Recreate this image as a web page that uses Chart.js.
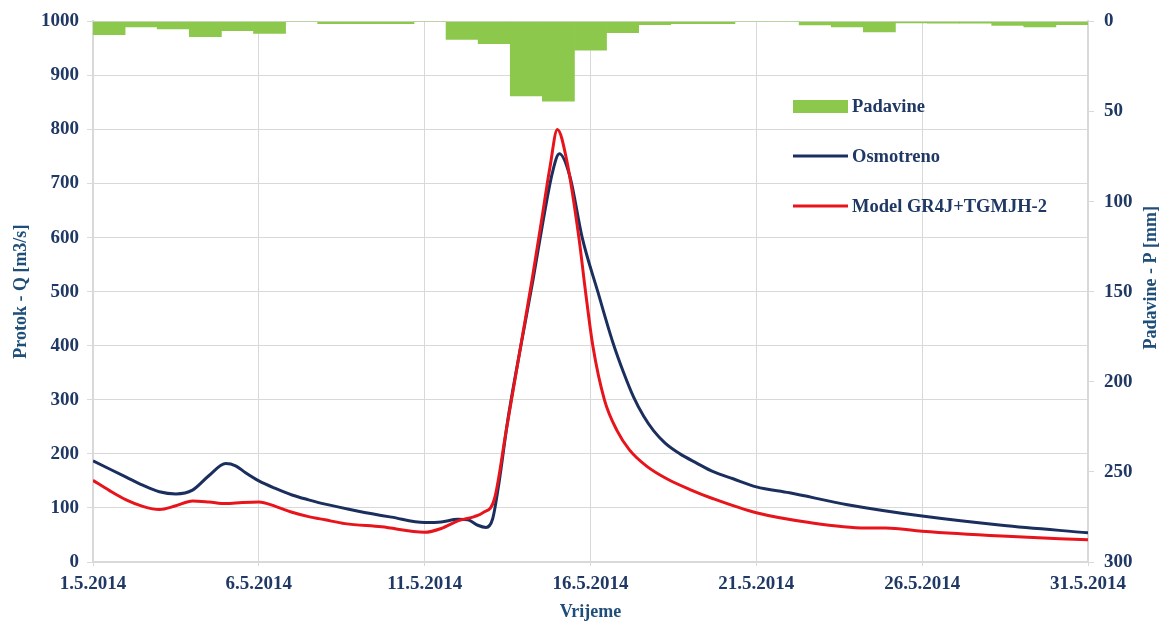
<!DOCTYPE html>
<html>
<head>
<meta charset="utf-8">
<script src="https://cdn.jsdelivr.net/npm/chart.js@4.4.1/dist/chart.umd.min.js"></script>
<style>
  html, body { margin: 0; padding: 0; background: #fff; }
  #wrap { width: 1161px; height: 623px; position: relative; }
</style>
</head>
<body>
<div id="wrap"><canvas id="flowChart"></canvas></div>
<script>
// daily rainfall, 1.5. - 31.5.2014 [mm]
const rainDays = ['1.5', '2.5', '3.5', '4.5', '5.5', '6.5', '7.5', '8.5', '9.5', '10.5',
  '11.5', '12.5', '13.5', '14.5', '15.5', '16.5', '17.5', '18.5', '19.5', '20.5',
  '21.5', '22.5', '23.5', '24.5', '25.5', '26.5', '27.5', '28.5', '29.5', '30.5', '31.5'];
const rainMm = [7.3, 3.1, 4.2, 8.5, 5.1, 6.7, 0, 1.3, 1.3, 1.3,
  0, 10, 12.3, 41.4, 44.2, 16, 6.3, 1.8, 1.3, 1.3,
  0, 0, 2.0, 3.0, 5.8, 0.9, 1.0, 1.0, 2.2, 3.0, 1.8];

// observed discharge (day of May, m3/s)
const obsDays = [1, 1.5, 2, 2.5, 3, 3.5, 4, 4.5, 5, 5.3, 5.6, 6, 6.5, 7, 7.5, 8, 9, 10, 11, 11.5, 12,
  12.3, 12.6, 12.85, 13.05, 13.25, 13.5, 13.9, 14.27, 14.58, 14.85, 15.06, 15.38, 15.75, 16.22, 16.67,
  17.0, 17.3, 17.6, 17.9, 18.25, 18.7, 19.2, 19.7, 20.3, 21, 22, 23.75, 26, 28.4, 31];
const obsQ = [187, 172, 157, 142, 130, 126, 133, 160, 182, 178, 165, 150, 136, 124, 115, 107, 94, 83, 73, 74, 79,
  78, 68, 64, 80, 150, 260, 400, 523, 634, 720, 755, 713, 600, 500, 407,
  350, 305, 270, 243, 220, 200, 183, 167, 154, 139, 128, 106, 85, 68, 54];

// model GR4J+TGMJH-2
const modDays = [1, 1.5, 2, 2.5, 3, 3.5, 4, 4.5, 5, 5.5, 6, 6.5, 7, 7.5, 8, 8.6, 9.7, 11, 11.5, 12,
  12.5, 12.75, 13.1, 13.45, 13.9, 14.24, 14.53, 14.78, 15, 15.28, 15.65, 15.85, 16.07, 16.42, 16.8,
  17.18, 17.7, 18.33, 19, 19.7, 21, 22.6, 24.3, 24.9, 26, 28.4, 31];
const modQ = [151, 132, 115, 103, 97, 104, 113, 111, 108, 110, 111, 103, 92, 84, 78, 71, 65, 55, 62, 76,
  84, 91, 116, 240, 401, 523, 634, 731, 800, 744, 600, 500, 400, 300, 243,
  207, 177, 153, 134, 117, 91, 73, 63, 63, 57, 48, 41];

const tickDays = [1, 6, 11, 16, 21, 26, 31];
const rainAxisTitle = 'Padavine - P [mm]';

const textColor = '#1F3864';
const titleColor = '#1F4E79';
const gridColor = '#d9d9d9';

Chart.defaults.font.family = '"Liberation Serif", "Times New Roman", serif';
Chart.defaults.font.weight = 'bold';
Chart.defaults.font.size = 19;
Chart.defaults.color = textColor;

const toPoints = (xs, ys) => xs.map((x, i) => ({ x: x, y: ys[i] }));

// legend inside the plot + right axis title reading upwards
const sideLegend = {
  id: 'sideLegend',
  afterDraw(chart) {
    const ctx = chart.ctx;
    ctx.save();
    ctx.font = 'bold 18.5px "Liberation Serif", serif';
    ctx.textBaseline = 'middle';
    chart.data.datasets.forEach((ds, i) => {
      const y = 106 + i * 50;
      if (ds.type === 'bar') {
        ctx.fillStyle = ds.backgroundColor;
        ctx.fillRect(793, y - 6, 55, 13);
      } else {
        ctx.strokeStyle = ds.borderColor;
        ctx.lineWidth = 3;
        ctx.beginPath();
        ctx.moveTo(793, y);
        ctx.lineTo(848, y);
        ctx.stroke();
      }
      ctx.fillStyle = textColor;
      ctx.fillText(ds.label, 852, y + 1);
    });

    const area = chart.chartArea;
    ctx.translate(1151, (area.top + area.bottom) / 2 - 14);
    ctx.rotate(-Math.PI / 2);
    ctx.textAlign = 'center';
    ctx.font = 'bold 18px "Liberation Serif", serif';
    ctx.fillStyle = titleColor;
    ctx.fillText(rainAxisTitle, 0, 0);
    ctx.restore();
  }
};

const config = {
  type: 'line',
  data: {
    datasets: [
      {
        type: 'bar',
        label: 'Padavine',
        data: rainMm,
        xAxisID: 'x2',
        yAxisID: 'y2',
        backgroundColor: '#8CC84B',
        borderWidth: 0,
        grouped: false,
        categoryPercentage: 1.0,
        barPercentage: 1.0,
        order: 3
      },
      {
        type: 'line',
        label: 'Osmotreno',
        data: toPoints(obsDays, obsQ),
        xAxisID: 'x',
        yAxisID: 'y',
        borderColor: '#1B2F5E',
        borderWidth: 3,
        pointRadius: 0,
        cubicInterpolationMode: 'monotone',
        order: 2
      },
      {
        type: 'line',
        label: 'Model GR4J+TGMJH-2',
        data: toPoints(modDays, modQ),
        xAxisID: 'x',
        yAxisID: 'y',
        borderColor: '#E8141C',
        borderWidth: 3,
        pointRadius: 0,
        cubicInterpolationMode: 'monotone',
        order: 1
      }
    ]
  },
  options: {
    responsive: true,
    maintainAspectRatio: false,
    animation: false,
    layout: { padding: { top: 21, left: 0, right: 0, bottom: 0 } },
    plugins: {
      legend: { display: false },
      tooltip: { enabled: false }
    },
    scales: {
      x: {
        type: 'linear',
        position: 'bottom',
        min: 1,
        max: 31,
        afterBuildTicks: s => { s.ticks = tickDays.map(v => ({ value: v })); },
        afterFit: s => { s.height = 61; },
        ticks: {
          callback: v => v + '.5.2014',
          padding: 7,
          maxRotation: 0,
          autoSkip: false
        },
        grid: { color: gridColor, lineWidth: 1, tickLength: 4 },
        border: { color: gridColor, width: 2 },
        title: {
          display: true,
          text: 'Vrijeme',
          color: titleColor,
          font: { size: 18, weight: 'bold' },
          padding: { top: 0, bottom: 0 }
        }
      },
      x2: {
        type: 'category',
        labels: rainDays,
        offset: true,
        display: false,
        grid: { offset: true }
      },
      y: {
        type: 'linear',
        position: 'left',
        min: 0,
        max: 1000,
        afterFit: s => { s.width = 93; },
        ticks: { stepSize: 100, padding: 8, callback: v => String(v) },
        grid: {
          color: gridColor,
          lineWidth: 1,
          borderDash: [4, 3],
          tickLength: 6,
          tickBorderDash: []
        },
        border: { color: gridColor, width: 2 },
        title: {
          display: true,
          text: 'Protok - Q [m3/s]',
          color: titleColor,
          font: { size: 18, weight: 'bold' },
          padding: { top: 11, bottom: 0 }
        }
      },
      y2: {
        type: 'linear',
        position: 'right',
        reverse: true,
        min: 0,
        max: 300,
        afterFit: s => { s.width = 73; },
        ticks: { stepSize: 50, padding: 10, callback: v => String(v) },
        grid: { drawOnChartArea: false, color: gridColor, tickLength: 6 },
        border: { color: gridColor, width: 2 }
      }
    }
  },
  plugins: [sideLegend]
};

const flowChart = new Chart(document.getElementById('flowChart'), config);
</script>
</body>
</html>
